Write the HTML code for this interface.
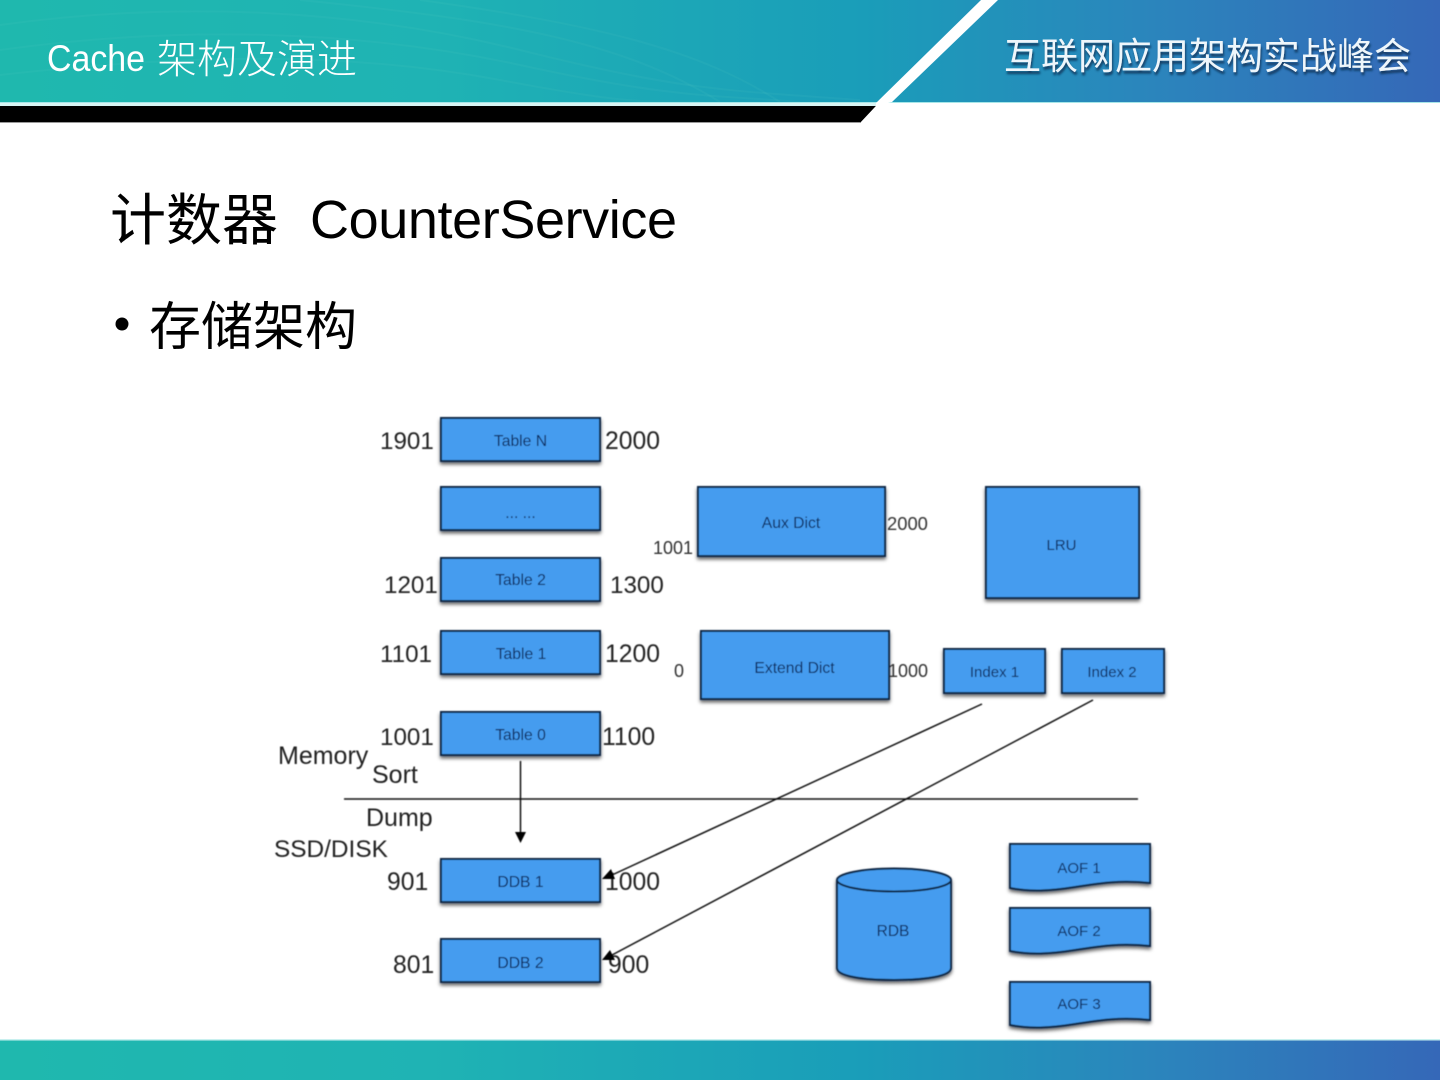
<!DOCTYPE html>
<html lang="zh"><head><meta charset="utf-8"><title>Cache 架构及演进</title>
<style>
html,body{margin:0;padding:0;background:#fff}
svg{display:block}
text{font-family:"Liberation Sans","Noto Sans CJK SC",sans-serif}
.n{font-size:24.7px;fill:#222;text-anchor:start}
.s{font-size:18px;fill:#333}
.b{font-size:15.7px;fill:#08285c;text-anchor:middle}
.c{font-size:15px}
.box{fill:#459cef;stroke:#0e2644;stroke-width:2;filter:url(#sh)}
</style></head>
<body>
<svg width="1440" height="1080" viewBox="0 0 1440 1080" xmlns="http://www.w3.org/2000/svg">
<defs>
<linearGradient id="g" x1="0" x2="1" y1="0" y2="0">
<stop offset="0" stop-color="#1fb8ae"/><stop offset=".3" stop-color="#1fb3b4"/><stop offset=".6" stop-color="#1a9db9"/><stop offset=".8" stop-color="#2b85bc"/><stop offset="1" stop-color="#3568b8"/>
</linearGradient>
<filter id="sh" x="-10%" y="-15%" width="120%" height="140%"><feDropShadow dx="0" dy="2.5" stdDeviation="1.8" flood-color="#000" flood-opacity=".6"/></filter>
<filter id="ts" x="-5%" y="-20%" width="110%" height="140%"><feDropShadow dx="1" dy="3" stdDeviation="1" flood-color="#0f3558" flood-opacity=".9"/></filter>
<filter id="soft" filterUnits="userSpaceOnUse" x="0" y="380" width="1440" height="660"><feGaussianBlur stdDeviation=".4"/></filter>
</defs>

<rect width="1440" height="102" fill="url(#g)"/>
<g fill="none" stroke="#6fd6ce" stroke-opacity=".08" stroke-width="2">
<path d="M0 25C180 0 360 10 520 50S720 90 860 100"/><path d="M0 50C180 25 360 30 520 65S720 95 800 102"/><path d="M0 75C180 55 340 50 500 80S640 98 700 102"/><path d="M300 0C500 20 620 40 720 102"/><path d="M420 0C600 25 700 50 780 102"/>
</g>
<rect y="102" width="876" height="4" fill="#d8f5f4"/>
<rect y="102" width="1440" height="1" fill="#a6e6e8"/>
<polygon points="0,106 876,106 861,122 0,122" fill="#000"/>
<polygon points="981,0 998,0 892,102 876,106 861,122 1440,122 1440,103 876,103" fill="#fff"/>
<rect y="122" width="861" height="1" fill="#999"/>

<text x="47" y="71" font-size="37" fill="#fff" textLength="98" lengthAdjust="spacingAndGlyphs">Cache</text>
<text x="157" y="73" font-size="40" fill="#fff" style="font-weight:300">架构及演进</text>
<text x="1004" y="69" font-size="37" fill="#eef6fb" filter="url(#ts)">互联网应用架构实战峰会</text>

<text x="110" y="240" font-size="56" fill="#000">计数器</text>
<text x="310" y="238" font-size="54" fill="#000" textLength="367">CounterService</text>
<circle cx="122" cy="324" r="6.500" fill="#000"/>
<text x="149" y="345" font-size="52" fill="#000">存储架构</text>

<g filter="url(#soft)">
<!-- boxes -->
<rect class="box" x="441" y="418" width="159" height="43"/>
<rect class="box" x="441" y="487" width="159" height="43"/>
<rect class="box" x="441" y="558" width="159" height="43"/>
<rect class="box" x="441" y="631" width="159" height="43"/>
<rect class="box" x="441" y="712" width="159" height="43"/>
<rect class="box" x="441" y="859" width="159" height="43"/>
<rect class="box" x="441" y="939" width="159" height="43"/>
<rect class="box" x="698" y="487" width="187" height="69"/>
<rect class="box" x="986" y="487" width="153" height="111"/>
<rect class="box" x="701" y="631" width="188" height="68"/>
<rect class="box" x="944" y="649" width="101" height="44"/>
<rect class="box" x="1062" y="649" width="102" height="44"/>

<text class="b" x="520.500" y="446">Table N</text>
<text class="b" x="520.500" y="518">... ...</text>
<text class="b" x="520.500" y="585">Table 2</text>
<text class="b" x="521" y="659">Table 1</text>
<text class="b" x="520.500" y="740">Table 0</text>
<text class="b" x="520.500" y="887">DDB 1</text>
<text class="b" x="520.500" y="968">DDB 2</text>
<text class="b" x="791" y="528">Aux Dict</text>
<text class="b c" x="1061.500" y="550">LRU</text>
<text class="b" x="794.500" y="673">Extend Dict</text>
<text class="b c" x="994.500" y="677">Index 1</text>
<text class="b c" x="1112" y="677">Index 2</text>

<text class="n" style="font-size:24.2px" x="380" y="449">1901</text><text class="n" x="605" y="449">2000</text>
<text class="n" style="font-size:24.2px" x="384" y="593">1201</text><text class="n" style="font-size:24.2px" x="610" y="593">1300</text>
<text class="n" style="font-size:24.2px" x="380" y="662">1101</text><text class="n" x="605" y="662">1200</text>
<text class="n" style="font-size:24.2px" x="380" y="745">1001</text><text class="n" x="602" y="745">1100</text>
<text class="n" x="387" y="890">901</text><text class="n" x="605" y="890">1000</text>
<text class="n" x="393" y="973">801</text><text class="n" x="608" y="973">900</text>
<text class="n" style="font-size:25px" x="278" y="764">Memory</text>
<text class="n" style="font-size:25px" x="372" y="783">Sort</text>
<text class="n" style="font-size:25px" x="366" y="826">Dump</text>
<text class="n" style="font-size:24.400px" x="274" y="857">SSD/DISK</text>
<text class="s" x="653" y="554">1001</text>
<text class="s" x="887" y="530" style="font-size:18.400px">2000</text>
<text class="s" x="674" y="677">0</text>
<text class="s" x="888" y="677">1000</text>

<!-- connectors -->
<g stroke="#111" stroke-width="1.500" fill="none">
<line x1="344" y1="799" x2="1138" y2="799"/>
<line x1="520.500" y1="761" x2="520.500" y2="832"/>
<line x1="982" y1="704" x2="612" y2="875"/>
<line x1="1093" y1="700" x2="612" y2="955"/>
</g>
<polygon points="515,832 526,832 520.500,843" fill="#000"/>
<polygon points="602,879 611,869 615,879" fill="#000"/>
<polygon points="602,960 610,950 615,960" fill="#000"/>

<!-- RDB -->
<g filter="url(#sh)">
<path d="M837 881V968C837 976 862 980 894 980S951 976 951 968V881Z" class="box" style="filter:none"/>
<ellipse cx="894" cy="880" rx="57" ry="11.500" class="box" style="filter:none"/>
</g>
<text class="b c" x="893" y="936" style="font-size:15.500px">RDB</text>

<!-- AOF -->
<path class="box" d="M1010 844H1150V883C1120 880 1100 883 1075 887S1030 892 1010 888Z"/>
<path class="box" d="M1010 908H1150V946C1120 943 1100 946 1075 950S1030 955 1010 951Z"/>
<path class="box" d="M1010 982H1150V1020C1120 1017 1100 1020 1075 1024S1030 1029 1010 1025Z"/>
<text class="b c" x="1079" y="873">AOF 1</text>
<text class="b c" x="1079" y="936">AOF 2</text>
<text class="b c" x="1079" y="1009">AOF 3</text>
</g>

<!-- footer -->
<rect y="1040" width="1440" height="40" fill="url(#g)"/>
<rect y="1039" width="1440" height="1.500" fill="#c8f0ef"/>
</svg>
</body></html>
